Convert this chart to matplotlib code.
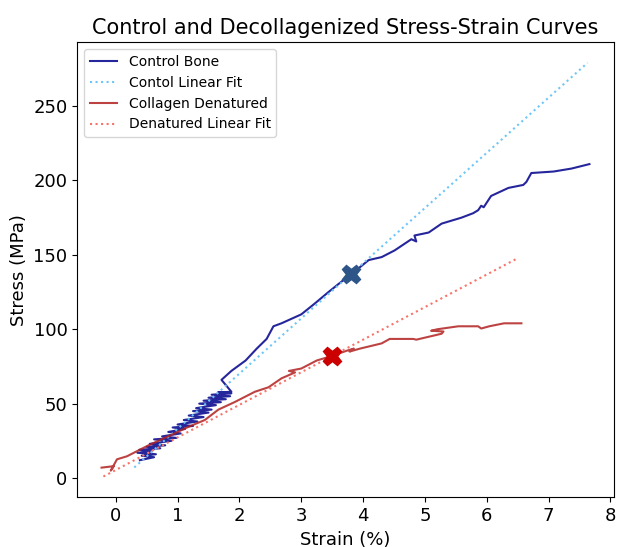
import numpy as np
import matplotlib
matplotlib.use("Agg")
import matplotlib.pyplot as plt

# control bone curve (strain %, stress MPa)
ctrl_strain = [0.39, 0.62, 0.42, 0.65, 0.35, 0.58, 0.38, 0.72, 0.5, 0.8, 0.55, 0.9, 0.62, 0.98,
               0.75, 1.05, 0.85, 1.12, 0.92, 1.25, 1.0, 1.32, 1.1, 1.42, 1.18, 1.5, 1.25, 1.55,
               1.3, 1.62, 1.35, 1.7, 1.42, 1.78, 1.5, 1.85, 1.55, 1.87, 1.65, 1.87, 1.71,
               1.87, 2.1, 2.28, 2.44, 2.55, 2.68, 2.84, 3.0, 3.21, 3.44, 3.65, 3.81, 4.09,
               4.3, 4.51, 4.78, 4.86, 4.83, 5.06, 5.27, 5.59, 5.78, 5.86, 5.91, 5.95, 6.07,
               6.35, 6.59, 6.64, 6.72, 7.08, 7.37, 7.66]
ctrl_stress = [12, 14, 15, 16, 17, 18, 19, 20, 21, 22, 23, 25, 26, 27,
               28, 30, 31, 33, 34, 35, 36, 38, 39, 41, 42, 44, 45, 46,
               47, 49, 50, 51, 52, 53, 54, 55, 56, 57, 57.5, 58, 66,
               72, 79, 87, 93.5, 102, 104, 107, 110, 117, 125, 132, 137, 146.5,
               148.5, 153, 160.5, 159, 163, 165, 171, 175, 178, 180, 183, 182, 189.6,
               195, 197, 199, 205, 206, 208, 211]

# collagen denatured curve
den_strain = [-0.23, -0.03, -0.08, 0.02, 0.18, 0.34, 0.53, 0.74, 0.9, 1.18, 1.44, 1.66,
              1.92, 2.25, 2.47, 2.68, 2.9, 2.8, 3.0, 3.25, 3.49, 3.73, 3.85, 3.78, 3.95,
              4.3, 4.43, 4.81, 4.86, 5.27, 5.3, 5.1, 5.2, 5.54, 5.86, 5.91, 6.04, 6.28, 6.56]
den_stress = [7, 8, 5, 12.6, 14.6, 18, 22, 26, 29, 34.5, 39, 46,
              51, 58, 61, 67, 71, 72, 73.6, 79, 82, 85.5, 87, 85, 87,
              90.5, 93.5, 93.5, 93, 97, 98.5, 99, 100, 102, 102, 100.5, 102, 104, 104]

# linear fits (slope, intercept, strain range)
ctrl_fit = (37.1, -4.0, 0.3, 7.63)
den_fit = (21.9, 5.4, -0.2, 6.5)

# yield points
ctrl_yield = (3.8, 137)
den_yield = (3.5, 82)

fig = plt.figure(figsize=(6.27, 5.47), dpi=100)
ax = fig.add_axes([0.123, 0.091, 0.856, 0.832])

ax.plot(ctrl_strain, ctrl_stress, color='darkblue', alpha=0.85, lw=1.5, label='Control Bone')
xf = np.linspace(ctrl_fit[2], ctrl_fit[3], 50)
ax.plot(xf, ctrl_fit[0] * xf + ctrl_fit[1], ':', color='#6ec6f7', lw=1.5, label='Contol Linear Fit')
ax.plot(den_strain, den_stress, color='firebrick', alpha=0.85, lw=1.5, label='Collagen Denatured')
xf = np.linspace(den_fit[2], den_fit[3], 50)
ax.plot(xf, den_fit[0] * xf + den_fit[1], ':', color='#f8736a', lw=1.5, label='Denatured Linear Fit')

ax.plot(*ctrl_yield, 'X', color='#2d5587', ms=13)
ax.plot(*den_yield, 'X', color='#cc0000', ms=13)

ax.set_title('Control and Decollagenized Stress-Strain Curves', fontsize=15)
ax.set_xlabel('Strain (%)', fontsize=13)
ax.set_ylabel('Stress (MPa)', fontsize=13)
ax.tick_params(labelsize=13)
ax.set_xticks(range(0, 9))
ax.legend(loc='upper left', fontsize=10)

fig.savefig('out.png', dpi=100)
